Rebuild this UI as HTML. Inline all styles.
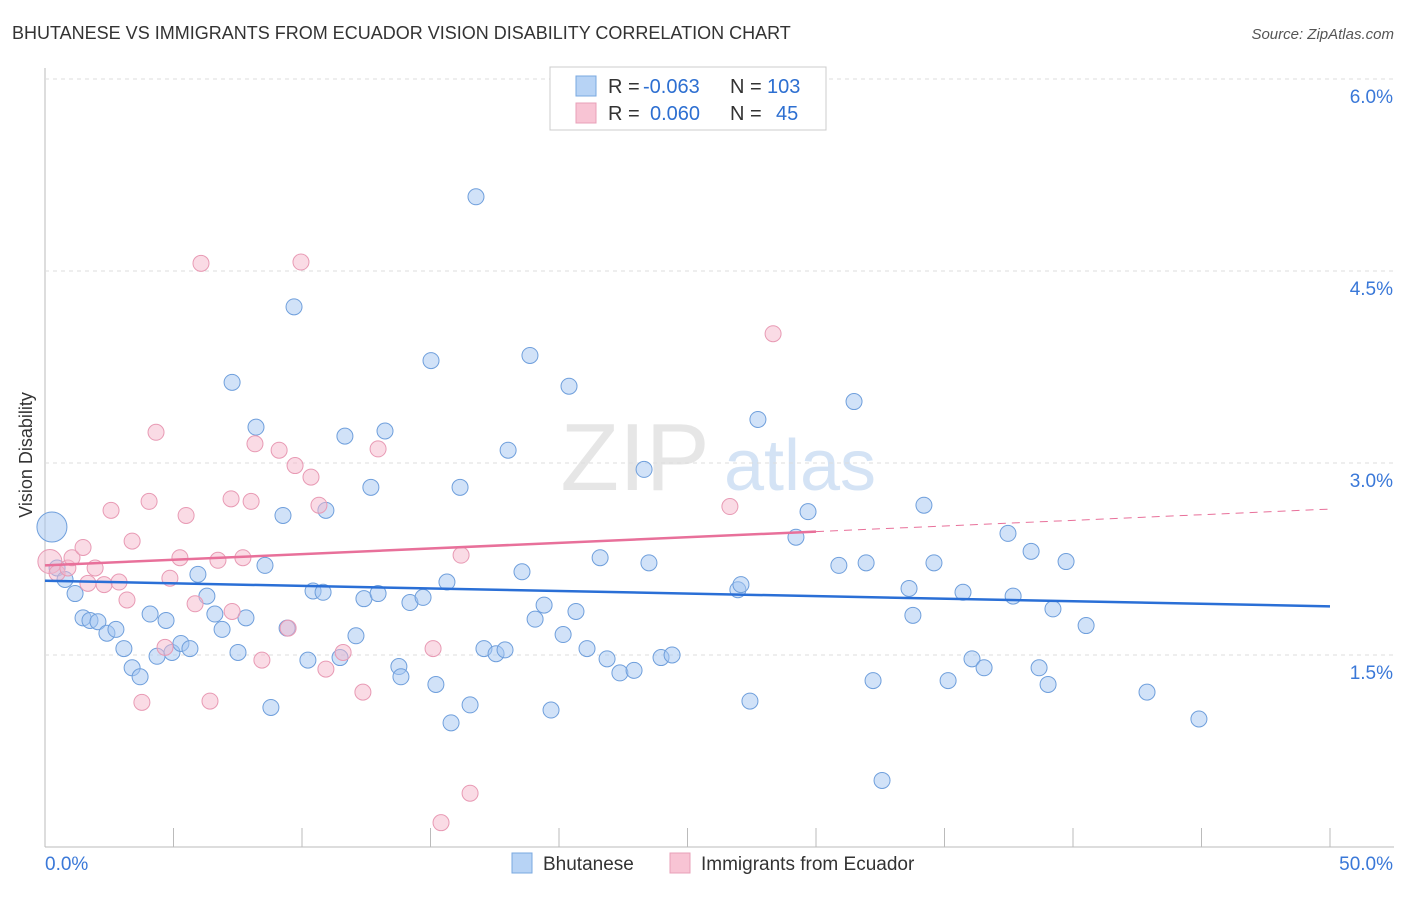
<!DOCTYPE html>
<html><head><meta charset="utf-8">
<style>
body{margin:0;background:#fff;font-family:"Liberation Sans",sans-serif;}
svg text{font-family:"Liberation Sans",sans-serif;}
</style></head>
<body>
<svg id="chart" width="1406" height="892" xmlns="http://www.w3.org/2000/svg">
<text x="12" y="39" font-size="18" fill="#333">BHUTANESE VS IMMIGRANTS FROM ECUADOR VISION DISABILITY CORRELATION CHART</text>
<text x="1394" y="39" font-size="15" fill="#555" font-style="italic" text-anchor="end">Source: ZipAtlas.com</text>
<text x="32" y="455" font-size="18" fill="#333" transform="rotate(-90 32 455)" text-anchor="middle">Vision Disability</text>
<g><text x="635" y="490" font-size="96" fill="#e6e6e6" font-family="Liberation Serif,serif" text-anchor="middle">ZIP</text><text x="800" y="490" font-size="72" fill="#d4e3f5" text-anchor="middle">atlas</text></g>
<g id="grid"></g><g id="marks"></g>
<g>
<rect x="550" y="67" width="276" height="63" fill="#fff" stroke="#ccc"/>
<rect x="576" y="76" width="20" height="20" fill="#b7d3f5" stroke="#7aa8e0"/>
<rect x="576" y="103" width="20" height="20" fill="#f8c4d4" stroke="#e8a0b8"/>
<text y="93" font-size="20" fill="#333"><tspan x="608">R =</tspan><tspan x="643" fill="#2d6fd1">-0.063</tspan><tspan x="730">N =</tspan><tspan x="767" fill="#2d6fd1">103</tspan></text>
<text y="120" font-size="20" fill="#333"><tspan x="608">R =</tspan><tspan x="650" fill="#2d6fd1">0.060</tspan><tspan x="730">N =</tspan><tspan x="776" fill="#2d6fd1">45</tspan></text>
</g>
<g>
<rect x="512" y="853" width="20" height="20" fill="#b7d3f5" stroke="#7aa8e0"/>
<text x="543" y="870" font-size="19" fill="#333">Bhutanese</text>
<rect x="670" y="853" width="20" height="20" fill="#f8c4d4" stroke="#e8a0b8"/>
<text x="701" y="870" font-size="19" fill="#333">Immigrants from Ecuador</text>
</g>
</svg>
<script>
const xTicksLbl=["0.0%","50.0%"];
const yTicks=[1.5,3.0,4.5,6.0];
const blueX=[0.27,0.47,0.78,1.17,1.48,1.75,2.06,2.41,2.76,3.07,3.39,3.70,4.09,4.36,4.71,4.94,5.29,5.64,5.95,6.30,6.61,6.89,7.28,7.51,7.82,8.21,8.56,8.79,9.26,9.69,9.42,10.23,10.43,10.82,10.93,11.48,11.67,12.10,12.41,12.68,12.96,13.23,13.77,13.85,14.20,14.71,15.02,15.21,15.64,15.80,16.15,16.54,16.77,17.08,17.55,17.90,18.02,18.56,18.87,19.07,19.42,19.69,20.16,20.39,20.66,21.09,21.60,21.87,22.37,22.92,23.31,23.50,23.97,24.40,26.96,27.08,27.43,27.74,29.22,29.69,30.89,31.48,31.95,32.22,32.57,33.62,33.77,34.20,34.59,35.14,35.72,36.07,36.54,37.47,37.67,38.37,38.68,39.03,39.22,39.73,40.51,42.88,44.90];
const blueY=[2.50,2.18,2.09,1.98,1.79,1.77,1.76,1.67,1.70,1.55,1.40,1.33,1.82,1.49,1.77,1.52,1.59,1.55,2.13,1.96,1.82,1.70,3.63,1.52,1.79,3.28,2.20,1.09,2.59,4.22,1.71,1.46,2.00,1.99,2.63,1.48,3.21,1.65,1.94,2.81,1.98,3.25,1.41,1.33,1.91,1.95,3.80,1.27,2.07,0.97,2.81,1.11,5.08,1.55,1.51,1.54,3.10,2.15,3.84,1.78,1.89,1.07,1.66,3.60,1.84,1.55,2.26,1.47,1.36,1.38,2.95,2.22,1.48,1.50,2.01,2.05,1.14,3.34,2.42,2.62,2.20,3.48,2.22,1.30,0.52,2.02,1.81,2.67,2.22,1.30,1.99,1.47,1.40,2.45,1.96,2.31,1.40,1.27,1.86,2.23,1.73,1.21,1.00];
const pinkX=[0.19,0.47,0.89,1.05,1.48,1.67,1.95,2.30,2.57,2.88,3.19,3.39,3.77,4.05,4.32,4.67,4.86,5.25,5.49,5.84,6.07,6.42,6.73,7.24,7.28,7.70,8.02,8.17,8.44,9.11,9.46,9.73,9.96,10.35,10.66,10.93,11.60,12.37,12.96,15.10,15.41,16.19,16.54,26.65,28.33];
const pinkY=[2.23,2.14,2.18,2.26,2.34,2.06,2.18,2.05,2.63,2.07,1.93,2.39,1.13,2.70,3.24,1.56,2.10,2.26,2.59,1.90,4.56,1.14,2.24,2.72,1.84,2.26,2.70,3.15,1.46,3.10,1.71,2.98,4.57,2.89,2.67,1.39,1.52,1.21,3.11,1.55,0.19,2.28,0.42,2.66,4.01];
const blueTrend=[2.08,1.88];
const pinkTrend=[2.20,2.64];
const NS="http://www.w3.org/2000/svg";
const X=v=>45+v/50*1285, Y=v=>847-v/1.5*192;
const grid=document.getElementById('grid'), marks=document.getElementById('marks');
function mk(tag,a,p){const e=document.createElementNS(NS,tag);for(const k in a)e.setAttribute(k,a[k]);p.appendChild(e);return e;}
let e=mk('line',{x1:45,y1:68,x2:45,y2:847,stroke:'#bbb'},grid);


e=mk('line',{x1:45,y1:847,x2:1394,y2:847,stroke:'#bbb'},grid);


yTicks.forEach(t=>{
 let g=mk('line',{x1:45,y1:Y(t),x2:1394,y2:Y(t),stroke:'#ddd','stroke-dasharray':'4 4'},grid);
 
 
 let l=mk('text',{x:1393,y:Y(t)+24,'font-size':19,fill:'#3a78d8','text-anchor':'end'},grid);
 l.textContent=t.toFixed(1)+'%';
 
 
});
for(let i=0;i<=10;i++){
 let t=mk('line',{x1:X(i*5),y1:828,x2:X(i*5),y2:847,stroke:'#bbb'},grid);
 
 
}
[[0,45,'start'],[1,1393,'end']].forEach(([i,x,a])=>{
 let l=mk('text',{x:x,y:870,'font-size':19,fill:'#3a78d8','text-anchor':a},grid);
 l.textContent=xTicksLbl[i];
 
 
});
blueX.forEach((v,i)=>{
 let c=mk('circle',{cx:X(v),cy:Y(blueY[i]),r:i==0?15:8,fill:'rgba(164,198,242,0.5)',stroke:'#6f9fdc','stroke-width':1},marks);
 
 
});
pinkX.forEach((v,i)=>{
 let c=mk('circle',{cx:X(v),cy:Y(pinkY[i]),r:i==0?12:8,fill:'rgba(246,184,204,0.5)',stroke:'#e89ab4','stroke-width':1},marks);
 
 
});
e=mk('line',{x1:X(0),y1:Y(blueTrend[0]),x2:X(50),y2:Y(blueTrend[1]),stroke:'#2a6fd6','stroke-width':2.5},marks);


const pAt=x=>pinkTrend[0]+(pinkTrend[1]-pinkTrend[0])*x/50;
e=mk('line',{x1:X(0),y1:Y(pAt(0)),x2:X(30),y2:Y(pAt(30)),stroke:'#e8709a','stroke-width':2.5},marks);


e=mk('line',{x1:X(30),y1:Y(pAt(30)),x2:X(50),y2:Y(pAt(50)),stroke:'#e8709a','stroke-width':1,'stroke-dasharray':'8 6'},marks);


</script>
</body></html>
